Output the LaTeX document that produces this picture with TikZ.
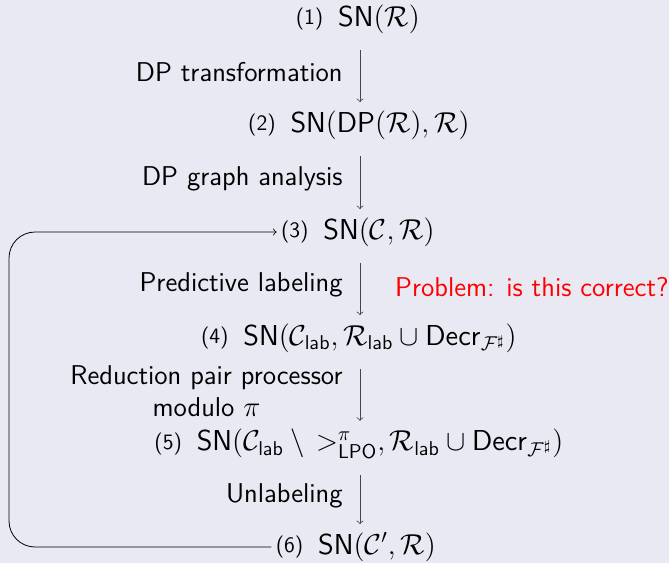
\documentclass[tikz,border=0pt]{standalone}
\usepackage{amsmath,amssymb}
\usepackage{tikz}
\usetikzlibrary{arrows}
\renewcommand{\familydefault}{\sfdefault}
\definecolor{slidebg}{RGB}{233,233,243}
\definecolor{arrowgray}{RGB}{70,70,70}

\begin{document}
\begin{tikzpicture}[x=0.5pt,y=-0.5pt,font=\fontsize{13.6}{16}\selectfont,
    judg/.style={inner sep=2pt},
    num/.style={font=\fontsize{11}{13}\selectfont,anchor=east,inner sep=2pt}]
        \fill[slidebg] (0,0) rectangle (669,563);
        \useasboundingbox (0,0) rectangle (669,563);
        \coordinate (arr) at (360,0);
        \coordinate (loop) at (9,390);
        % the six goals, top to bottom
        \node[judg] (s1) at (379,19)  {$\mathsf{SN}(\mathcal{R})$};
        \node[judg] (s2) at (380,125) {$\mathsf{SN}(\mathsf{DP}(\mathcal{R}),\mathcal{R})$};
        \node[judg] (s3) at (379,232) {$\mathsf{SN}(\mathcal{C},\mathcal{R})$};
        \node[judg] (s4) at (380,338) {$\mathsf{SN}(\mathcal{C}_{\mathsf{lab}},\mathcal{R}_{\mathsf{lab}}\cup\mathsf{Decr}_{\mathcal{F}^\sharp})$};
        \node[judg] (s5) at (380,444) {$\mathsf{SN}(\mathcal{C}_{\mathsf{lab}}\setminus\,{>}^{\pi}_{\mathsf{LPO}},\mathcal{R}_{\mathsf{lab}}\cup\mathsf{Decr}_{\mathcal{F}^\sharp})$};
        \node[judg] (s6) at (377,547) {$\mathsf{SN}(\mathcal{C}',\mathcal{R})$};
        \foreach \i in {1,...,6} {
          \node[num] (n\i) at ([xshift=-3pt]s\i.west) {(\i)};
        }
        % proof steps
        \foreach \i/\j/\l in {1/2/{DP transformation},
          2/3/{DP graph analysis},
          3/4/{Predictive labeling},
          4/5/{Reduction pair processor\\modulo $\pi$},
          5/6/{Unlabeling}} {
            \draw[->,arrowgray,shorten <=6pt,shorten >=2pt]
              (s\i.south -| arr) -- (s\j.north -| arr)
              node[midway,left=7.5pt,black,align=center,inner sep=1pt] {\l};
        }
        \node[red,anchor=west] (prob) at (388,287) {Problem: is this correct?};
        % back to (3)
        \draw[->,rounded corners=13pt] (n6.west) -| (loop) |- (n3.west);
      \end{tikzpicture}
\end{document}
